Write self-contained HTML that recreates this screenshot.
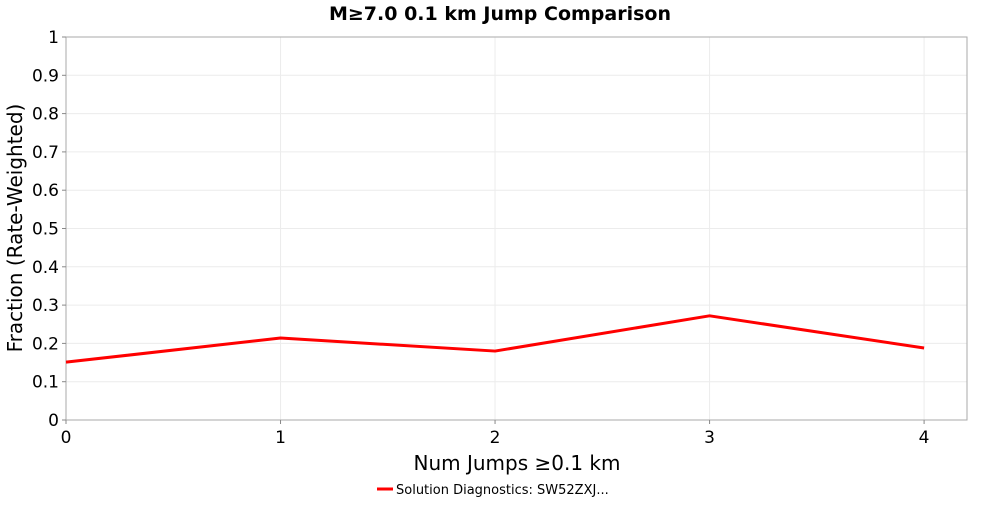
<!DOCTYPE html>
<html><head><meta charset="utf-8">
<style>
html,body{margin:0;padding:0;background:#fff;}
svg text{font-family:"DejaVu Sans","Liberation Sans",sans-serif;}
</style></head>
<body>
<svg id="chart" width="1000" height="500" xmlns="http://www.w3.org/2000/svg">
<text x="500" y="20" text-anchor="middle" font-size="19" font-weight="bold">M≥7.0 0.1 km Jump Comparison</text>
<g id="grid"></g>
<rect x="66" y="37" width="901" height="383" fill="none" stroke="#aaa" stroke-width="1"/>
<g id="ticks"></g>
<g id="series"></g>
<text x="517" y="470" text-anchor="middle" font-size="20">Num Jumps ≥0.1 km</text>
<text transform="translate(22,228) rotate(-90)" text-anchor="middle" font-size="20">Fraction (Rate-Weighted)</text>
<g>
<line x1="377" y1="489" x2="393" y2="489" stroke="#f00" stroke-width="3"/>
<text x="396" y="494" font-size="13">Solution Diagnostics: SW52ZXJ...</text>
</g>
</svg>
<script>
const categories = [0, 1, 2, 3, 4];
const fractionValues = [0.151, 0.214, 0.180, 0.272, 0.188];
const xTickLabels = ["0", "1", "2", "3", "4"];
const yTickLabels = ["0", "0.1", "0.2", "0.3", "0.4", "0.5", "0.6", "0.7", "0.8", "0.9", "1"];

const NS = "http://www.w3.org/2000/svg";
const X0 = 66, X1 = 967, Y0 = 420, Y1 = 37, XMAX = 4.2, YMAX = 1;
function xs(v){ return X0 + v / XMAX * (X1 - X0); }
function ys(v){ return Y0 - v / YMAX * (Y0 - Y1); }
function mk(tag, attrs, parent){
  const e = document.createElementNS(NS, tag);
  for (const k in attrs) e.setAttribute(k, attrs[k]);
  parent.appendChild(e); return e;
}
const grid = document.getElementById('grid');
const ticks = document.getElementById('ticks');
const series = document.getElementById('series');

yTickLabels.forEach(function(lbl){
  const v = parseFloat(lbl), y = ys(v);
  const g = mk('line', {x1:X0, x2:X1, y1:y, y2:y, stroke:'#ececec', 'stroke-width':1}, grid);
  
  
  const t = mk('line', {x1:X0-4, x2:X0, y1:y, y2:y, stroke:'#888'}, ticks);
  
  
  const tx = mk('text', {x:X0-7, y:y+6, 'text-anchor':'end', 'font-size':17}, ticks);
  tx.textContent = lbl;
  
  
});
xTickLabels.forEach(function(lbl){
  const v = parseFloat(lbl), x = xs(v);
  const g = mk('line', {x1:x, x2:x, y1:Y1, y2:Y0, stroke:'#ececec', 'stroke-width':1}, grid);
  
  
  const t = mk('line', {x1:x, x2:x, y1:Y0, y2:Y0+4, stroke:'#888'}, ticks);
  
  
  const tx = mk('text', {x:x, y:Y0+23, 'text-anchor':'middle', 'font-size':17}, ticks);
  tx.textContent = lbl;
  
  
});
const pts = categories.map(function(c, i){ return xs(c) + ',' + ys(fractionValues[i]); }).join(' ');
const line = mk('polyline', {points:pts, fill:'none', stroke:'#f00', 'stroke-width':3, 'stroke-linejoin':'round'}, series);


</script>
</body></html>
